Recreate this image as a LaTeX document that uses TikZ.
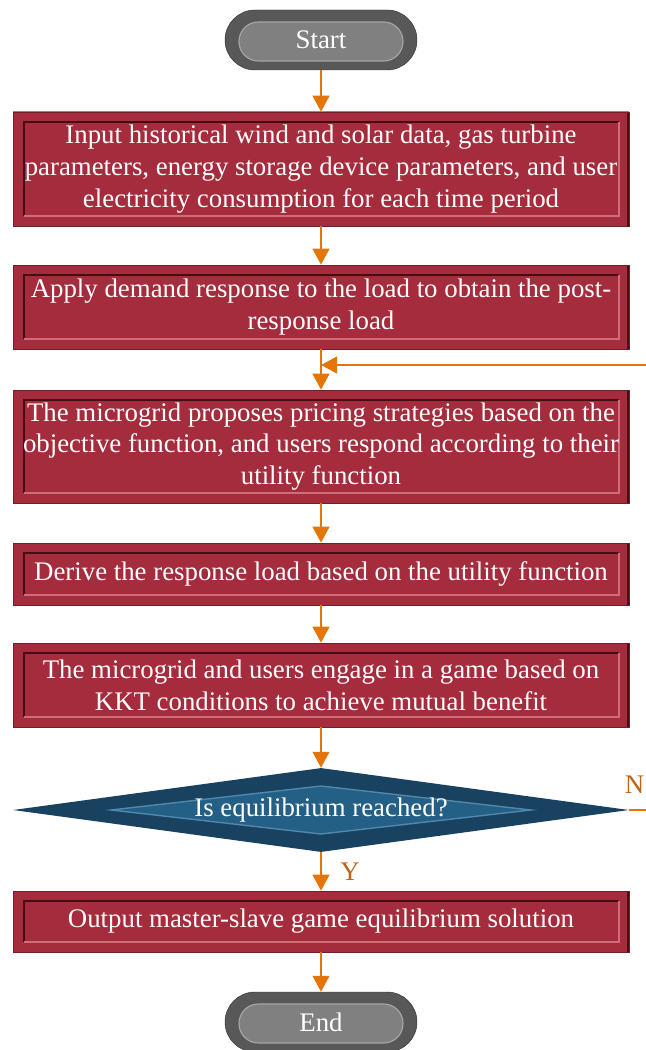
\documentclass[tikz,border=0pt]{standalone}
\usepackage{fontspec}
\setmainfont{Liberation Serif}
\usetikzlibrary{calc,positioning,shapes.geometric,arrows.meta}

\definecolor{boxred}{RGB}{165,44,61}
\definecolor{boxlight}{RGB}{205,110,122}
\definecolor{boxdark}{RGB}{70,12,20}
\definecolor{diadark}{RGB}{24,66,96}
\definecolor{diamid}{RGB}{36,96,134}
\definecolor{dialight}{RGB}{80,135,170}
\definecolor{pillout}{RGB}{88,88,88}
\definecolor{pillin}{RGB}{128,128,128}
\definecolor{pilllight}{RGB}{165,165,165}
\definecolor{arroworange}{RGB}{228,118,8}
\definecolor{labelbrown}{RGB}{190,100,20}

\begin{document}
\begin{tikzpicture}

    \tikzstyle{boxfont}=[font=\fontsize{22.9}{27.2}\selectfont,text=white,align=center]
    \tikzstyle{procbox}=[boxfont,fill=boxred,draw=boxred!70!black,line width=0.5pt,inner sep=0pt,minimum width=18.48cm,
      path picture={
        \coordinate (pnw) at (path picture bounding box.north west);
        \coordinate (pse) at (path picture bounding box.south east);
        \draw[boxlight,line width=2pt] (pnw) -- (pnw -| pse);
        \draw[boxdark,line width=3pt] (pnw -| pse) -- (pse);
        \draw[boxdark,line width=2.4pt] ($(pnw |- pse)+(0.33,0.3)$) -- ($(pnw)+(0.33,-0.3)$) -- ($(pnw -| pse)+(-0.3,-0.3)$);
        \draw[boxlight,line width=1.2pt] ($(pnw |- pse)+(0.33,0.3)$) -- ($(pse)+(-0.3,0.3)$) -- ($(pnw -| pse)+(-0.3,-0.3)$);
      }]
    \tikzstyle{terminal}=[boxfont,fill=pillout,draw=pillout!60!black,rounded corners=0.9cm,minimum width=5.76cm,minimum height=1.8cm,
      path picture={
        \coordinate (pnw) at (path picture bounding box.north west);
        \coordinate (pse) at (path picture bounding box.south east);
        \filldraw[pillin,draw=pilllight,line width=1pt,rounded corners=0.58cm] ($(pnw)+(0.42,-0.36)$) rectangle ($(pse)+(-0.42,0.27)$);
      }]
    \tikzstyle{decision}=[boxfont,shape=diamond,aspect=7.33,inner sep=0pt,minimum width=18.48cm,minimum height=2.52cm,fill=diadark,
      path picture={
        \coordinate (pc) at (path picture bounding box.center);
        \filldraw[diamid,draw=dialight,line width=1.2pt] ($(pc)+(-6.3,0)$) -- ($(pc)+(0,0.72)$) -- ($(pc)+(6.3,0)$) -- ($(pc)+(0,-0.72)$) -- cycle;
      }]
    \tikzstyle{flow}=[draw=arroworange,line width=1.8pt,-{Triangle[length=0.48cm,width=0.5cm]}]
    \tikzstyle{branch}=[font=\fontsize{22.9}{27.2}\selectfont,text=labelbrown,inner sep=0pt]

    \useasboundingbox (0,0) rectangle (19.38,-31.5);

    \node (start) [terminal] at (9.63,-1.2) {Start};

    \node (input) [procbox,minimum height=3.42cm] at (9.63,-5.07)
      {Input historical wind and solar data, gas turbine\\ parameters, energy storage device parameters, and user\\ electricity consumption for each time period};

    \node (demand) [procbox,minimum height=2.52cm] at (9.63,-9.21)
      {Apply demand response to the load to obtain the post-\\response load};

    \node (pricing) [procbox,minimum height=3.39cm] at (9.63,-13.395)
      {The microgrid proposes pricing strategies based on the\\ objective function, and users respond according to their\\ utility function};

    \node (derive) [procbox,minimum height=1.86cm] at (9.63,-17.22)
      {Derive the response load based on the utility function};

    \node (game) [procbox,minimum height=2.52cm] at (9.63,-20.55)
      {The microgrid and users engage in a game based on\\ KKT conditions to achieve mutual benefit};

    \node (check) [decision] at (9.63,-24.3) {Is equilibrium reached?};

    \node (output) [procbox,minimum height=1.83cm] at (9.63,-27.645)
      {Output master-slave game equilibrium solution};

    \node (end) [terminal] at (9.63,-30.66) {End};

    % main flow
    \draw [flow] (start) -- (input);
    \draw [flow] (input) -- (demand);
    \draw [flow] (demand) -- (pricing);
    \draw [flow] (pricing) -- (derive);
    \draw [flow] (derive) -- (game);
    \draw [flow] (game) -- (check);
    \draw [flow] (check) -- node[branch,right=0.55cm] (yes) {Y} (output);
    \draw [flow] (output) -- (end);

    % loop back when not reached
    \coordinate (join) at (9.63,-10.95);
    \node (no) [branch,anchor=south east] at ($(check.east)+(0.46,0.5)$) {N};
    \draw [flow] (check.east) -- ++(1,0) |- (join);

\end{tikzpicture}
\end{document}
